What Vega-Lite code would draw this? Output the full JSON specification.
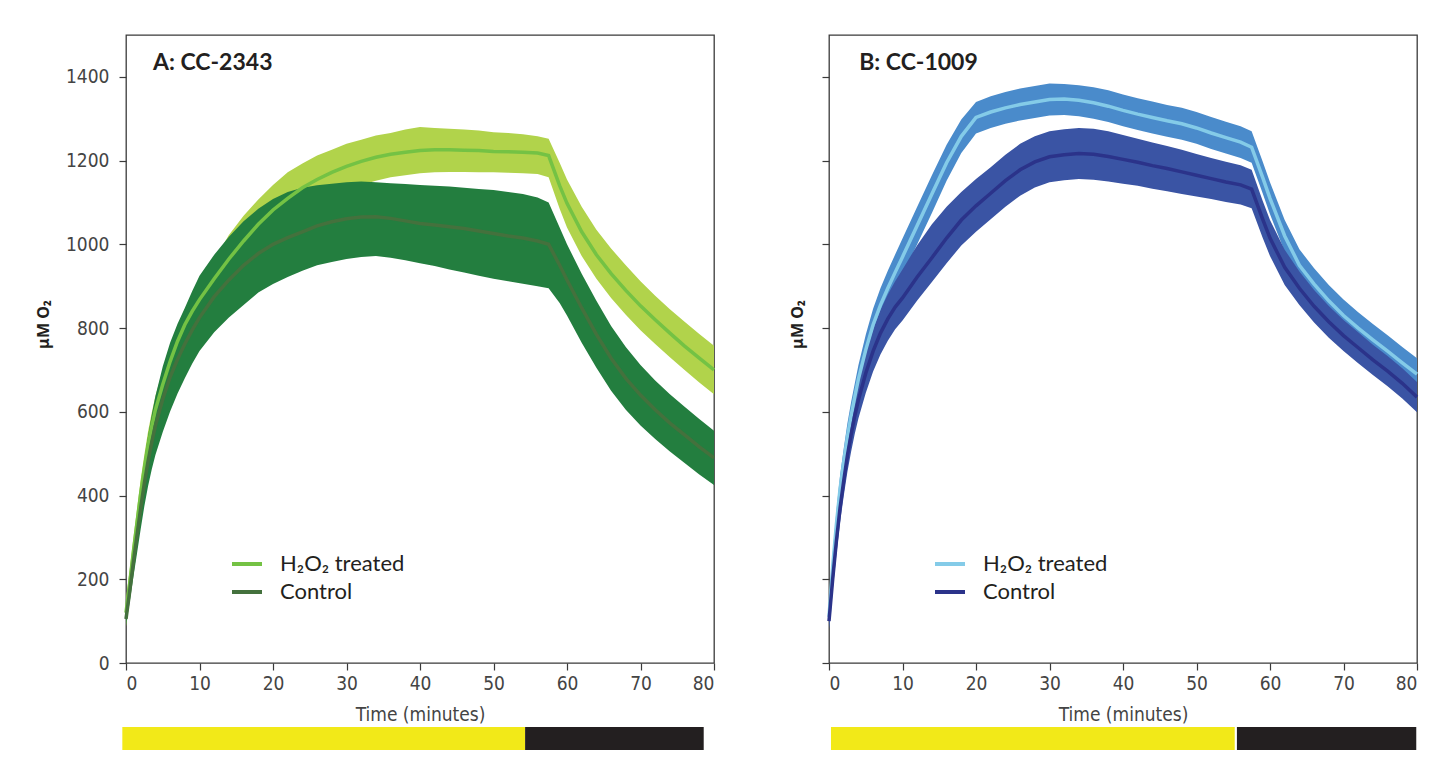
{
"$schema": "https://vega.github.io/schema/vega-lite/v6.json",
"background": "white",
"padding": {"left": 34, "top": 34, "right": 0, "bottom": 0},
"config": {
  "view": {"stroke": "#3a3a3a", "strokeWidth": 1.3},
  "axis": {"domain": false, "grid": false, "tickColor": "#3a3a3a", "tickSize": 7, "tickWidth": 1.2,
           "labelFont": "DejaVu Sans Condensed", "labelFontSize": 19, "labelColor": "#444444",
           "titleFont": "DejaVu Sans Condensed", "titleFontSize": 19, "titleColor": "#444444", "titleFontWeight": "normal"}
},
"datasets": {
  "curves": [
{"p":"A","g":"H₂O₂ treated","t":0,"m":120,"lo":88,"hi":152},
{"p":"A","g":"H₂O₂ treated","t":0.5,"m":190,"lo":158,"hi":222},
{"p":"A","g":"H₂O₂ treated","t":1,"m":265,"lo":232,"hi":298},
{"p":"A","g":"H₂O₂ treated","t":1.5,"m":335,"lo":302,"hi":368},
{"p":"A","g":"H₂O₂ treated","t":2,"m":405,"lo":372,"hi":438},
{"p":"A","g":"H₂O₂ treated","t":2.5,"m":465,"lo":432,"hi":498},
{"p":"A","g":"H₂O₂ treated","t":3,"m":520,"lo":487,"hi":553},
{"p":"A","g":"H₂O₂ treated","t":3.5,"m":565,"lo":532,"hi":598},
{"p":"A","g":"H₂O₂ treated","t":4,"m":605,"lo":572,"hi":638},
{"p":"A","g":"H₂O₂ treated","t":5,"m":665,"lo":630,"hi":700},
{"p":"A","g":"H₂O₂ treated","t":6,"m":720,"lo":685,"hi":755},
{"p":"A","g":"H₂O₂ treated","t":7,"m":768,"lo":732,"hi":804},
{"p":"A","g":"H₂O₂ treated","t":8,"m":808,"lo":772,"hi":845},
{"p":"A","g":"H₂O₂ treated","t":9,"m":840,"lo":803,"hi":878},
{"p":"A","g":"H₂O₂ treated","t":10,"m":868,"lo":830,"hi":905},
{"p":"A","g":"H₂O₂ treated","t":12,"m":918,"lo":875,"hi":962},
{"p":"A","g":"H₂O₂ treated","t":14,"m":965,"lo":910,"hi":1022},
{"p":"A","g":"H₂O₂ treated","t":16,"m":1008,"lo":950,"hi":1068},
{"p":"A","g":"H₂O₂ treated","t":18,"m":1048,"lo":985,"hi":1107},
{"p":"A","g":"H₂O₂ treated","t":20,"m":1082,"lo":1020,"hi":1142},
{"p":"A","g":"H₂O₂ treated","t":22,"m":1110,"lo":1050,"hi":1172},
{"p":"A","g":"H₂O₂ treated","t":24,"m":1135,"lo":1075,"hi":1193},
{"p":"A","g":"H₂O₂ treated","t":26,"m":1155,"lo":1098,"hi":1212},
{"p":"A","g":"H₂O₂ treated","t":28,"m":1172,"lo":1115,"hi":1226},
{"p":"A","g":"H₂O₂ treated","t":30,"m":1186,"lo":1130,"hi":1240},
{"p":"A","g":"H₂O₂ treated","t":32,"m":1198,"lo":1142,"hi":1250},
{"p":"A","g":"H₂O₂ treated","t":34,"m":1208,"lo":1152,"hi":1260},
{"p":"A","g":"H₂O₂ treated","t":36,"m":1215,"lo":1160,"hi":1266},
{"p":"A","g":"H₂O₂ treated","t":38,"m":1220,"lo":1165,"hi":1274},
{"p":"A","g":"H₂O₂ treated","t":40,"m":1224,"lo":1170,"hi":1280},
{"p":"A","g":"H₂O₂ treated","t":42,"m":1226,"lo":1172,"hi":1278},
{"p":"A","g":"H₂O₂ treated","t":44,"m":1226,"lo":1173,"hi":1276},
{"p":"A","g":"H₂O₂ treated","t":46,"m":1225,"lo":1173,"hi":1274},
{"p":"A","g":"H₂O₂ treated","t":48,"m":1224,"lo":1172,"hi":1272},
{"p":"A","g":"H₂O₂ treated","t":50,"m":1222,"lo":1172,"hi":1268},
{"p":"A","g":"H₂O₂ treated","t":52,"m":1221,"lo":1171,"hi":1266},
{"p":"A","g":"H₂O₂ treated","t":54,"m":1220,"lo":1170,"hi":1263},
{"p":"A","g":"H₂O₂ treated","t":56,"m":1218,"lo":1168,"hi":1258},
{"p":"A","g":"H₂O₂ treated","t":57.5,"m":1212,"lo":1160,"hi":1252},
{"p":"A","g":"H₂O₂ treated","t":59,"m":1140,"lo":1085,"hi":1195},
{"p":"A","g":"H₂O₂ treated","t":60,"m":1098,"lo":1040,"hi":1155},
{"p":"A","g":"H₂O₂ treated","t":62,"m":1030,"lo":972,"hi":1090},
{"p":"A","g":"H₂O₂ treated","t":64,"m":975,"lo":918,"hi":1035},
{"p":"A","g":"H₂O₂ treated","t":66,"m":930,"lo":872,"hi":990},
{"p":"A","g":"H₂O₂ treated","t":68,"m":890,"lo":832,"hi":950},
{"p":"A","g":"H₂O₂ treated","t":70,"m":853,"lo":795,"hi":912},
{"p":"A","g":"H₂O₂ treated","t":72,"m":820,"lo":762,"hi":877},
{"p":"A","g":"H₂O₂ treated","t":74,"m":788,"lo":730,"hi":845},
{"p":"A","g":"H₂O₂ treated","t":76,"m":757,"lo":700,"hi":815},
{"p":"A","g":"H₂O₂ treated","t":78,"m":728,"lo":670,"hi":786},
{"p":"A","g":"H₂O₂ treated","t":80,"m":700,"lo":642,"hi":758},
{"p":"A","g":"Control","t":0,"m":105,"lo":90,"hi":120},
{"p":"A","g":"Control","t":0.5,"m":170,"lo":145,"hi":195},
{"p":"A","g":"Control","t":1,"m":240,"lo":205,"hi":275},
{"p":"A","g":"Control","t":1.5,"m":305,"lo":262,"hi":348},
{"p":"A","g":"Control","t":2,"m":370,"lo":320,"hi":420},
{"p":"A","g":"Control","t":2.5,"m":430,"lo":375,"hi":485},
{"p":"A","g":"Control","t":3,"m":482,"lo":422,"hi":542},
{"p":"A","g":"Control","t":3.5,"m":527,"lo":462,"hi":592},
{"p":"A","g":"Control","t":4,"m":567,"lo":497,"hi":637},
{"p":"A","g":"Control","t":5,"m":630,"lo":552,"hi":708},
{"p":"A","g":"Control","t":6,"m":683,"lo":601,"hi":765},
{"p":"A","g":"Control","t":7,"m":725,"lo":643,"hi":810},
{"p":"A","g":"Control","t":8,"m":762,"lo":680,"hi":848},
{"p":"A","g":"Control","t":9,"m":795,"lo":715,"hi":888},
{"p":"A","g":"Control","t":10,"m":825,"lo":745,"hi":925},
{"p":"A","g":"Control","t":12,"m":875,"lo":790,"hi":975},
{"p":"A","g":"Control","t":14,"m":915,"lo":825,"hi":1018},
{"p":"A","g":"Control","t":16,"m":950,"lo":855,"hi":1055},
{"p":"A","g":"Control","t":18,"m":978,"lo":885,"hi":1085},
{"p":"A","g":"Control","t":20,"m":1000,"lo":905,"hi":1108},
{"p":"A","g":"Control","t":22,"m":1016,"lo":922,"hi":1125},
{"p":"A","g":"Control","t":24,"m":1030,"lo":937,"hi":1135},
{"p":"A","g":"Control","t":26,"m":1044,"lo":950,"hi":1141},
{"p":"A","g":"Control","t":28,"m":1054,"lo":958,"hi":1145},
{"p":"A","g":"Control","t":30,"m":1061,"lo":965,"hi":1148},
{"p":"A","g":"Control","t":32,"m":1065,"lo":970,"hi":1150},
{"p":"A","g":"Control","t":34,"m":1066,"lo":972,"hi":1148},
{"p":"A","g":"Control","t":36,"m":1062,"lo":968,"hi":1146},
{"p":"A","g":"Control","t":38,"m":1056,"lo":962,"hi":1144},
{"p":"A","g":"Control","t":40,"m":1050,"lo":955,"hi":1142},
{"p":"A","g":"Control","t":42,"m":1046,"lo":948,"hi":1140},
{"p":"A","g":"Control","t":44,"m":1042,"lo":940,"hi":1138},
{"p":"A","g":"Control","t":46,"m":1038,"lo":933,"hi":1135},
{"p":"A","g":"Control","t":48,"m":1032,"lo":925,"hi":1132},
{"p":"A","g":"Control","t":50,"m":1026,"lo":918,"hi":1130},
{"p":"A","g":"Control","t":52,"m":1020,"lo":912,"hi":1125},
{"p":"A","g":"Control","t":54,"m":1015,"lo":906,"hi":1120},
{"p":"A","g":"Control","t":56,"m":1008,"lo":900,"hi":1112},
{"p":"A","g":"Control","t":57.5,"m":1000,"lo":895,"hi":1100},
{"p":"A","g":"Control","t":59,"m":950,"lo":860,"hi":1040},
{"p":"A","g":"Control","t":60,"m":915,"lo":830,"hi":1000},
{"p":"A","g":"Control","t":62,"m":848,"lo":765,"hi":930},
{"p":"A","g":"Control","t":64,"m":785,"lo":705,"hi":865},
{"p":"A","g":"Control","t":66,"m":728,"lo":650,"hi":805},
{"p":"A","g":"Control","t":68,"m":680,"lo":605,"hi":755},
{"p":"A","g":"Control","t":70,"m":640,"lo":567,"hi":712},
{"p":"A","g":"Control","t":72,"m":605,"lo":535,"hi":675},
{"p":"A","g":"Control","t":74,"m":573,"lo":505,"hi":642},
{"p":"A","g":"Control","t":76,"m":545,"lo":478,"hi":612},
{"p":"A","g":"Control","t":78,"m":516,"lo":450,"hi":583},
{"p":"A","g":"Control","t":80,"m":490,"lo":425,"hi":555},
{"p":"B","g":"H₂O₂ treated","t":0,"m":110,"lo":85,"hi":135},
{"p":"B","g":"H₂O₂ treated","t":0.5,"m":230,"lo":200,"hi":260},
{"p":"B","g":"H₂O₂ treated","t":1,"m":330,"lo":300,"hi":362},
{"p":"B","g":"H₂O₂ treated","t":1.5,"m":415,"lo":383,"hi":447},
{"p":"B","g":"H₂O₂ treated","t":2,"m":480,"lo":448,"hi":512},
{"p":"B","g":"H₂O₂ treated","t":2.5,"m":540,"lo":508,"hi":572},
{"p":"B","g":"H₂O₂ treated","t":3,"m":590,"lo":558,"hi":622},
{"p":"B","g":"H₂O₂ treated","t":3.5,"m":635,"lo":603,"hi":667},
{"p":"B","g":"H₂O₂ treated","t":4,"m":678,"lo":645,"hi":711},
{"p":"B","g":"H₂O₂ treated","t":5,"m":748,"lo":712,"hi":784},
{"p":"B","g":"H₂O₂ treated","t":6,"m":808,"lo":770,"hi":846},
{"p":"B","g":"H₂O₂ treated","t":7,"m":855,"lo":815,"hi":895},
{"p":"B","g":"H₂O₂ treated","t":8,"m":895,"lo":853,"hi":937},
{"p":"B","g":"H₂O₂ treated","t":9,"m":933,"lo":890,"hi":976},
{"p":"B","g":"H₂O₂ treated","t":10,"m":970,"lo":926,"hi":1014},
{"p":"B","g":"H₂O₂ treated","t":12,"m":1045,"lo":1000,"hi":1090},
{"p":"B","g":"H₂O₂ treated","t":14,"m":1120,"lo":1075,"hi":1165},
{"p":"B","g":"H₂O₂ treated","t":16,"m":1195,"lo":1152,"hi":1238},
{"p":"B","g":"H₂O₂ treated","t":18,"m":1258,"lo":1218,"hi":1298},
{"p":"B","g":"H₂O₂ treated","t":20,"m":1303,"lo":1265,"hi":1340},
{"p":"B","g":"H₂O₂ treated","t":22,"m":1316,"lo":1278,"hi":1354},
{"p":"B","g":"H₂O₂ treated","t":24,"m":1326,"lo":1288,"hi":1364},
{"p":"B","g":"H₂O₂ treated","t":26,"m":1334,"lo":1296,"hi":1372},
{"p":"B","g":"H₂O₂ treated","t":28,"m":1340,"lo":1302,"hi":1378},
{"p":"B","g":"H₂O₂ treated","t":30,"m":1346,"lo":1308,"hi":1384},
{"p":"B","g":"H₂O₂ treated","t":32,"m":1347,"lo":1309,"hi":1383},
{"p":"B","g":"H₂O₂ treated","t":34,"m":1344,"lo":1306,"hi":1380},
{"p":"B","g":"H₂O₂ treated","t":36,"m":1338,"lo":1300,"hi":1375},
{"p":"B","g":"H₂O₂ treated","t":38,"m":1330,"lo":1292,"hi":1368},
{"p":"B","g":"H₂O₂ treated","t":40,"m":1320,"lo":1282,"hi":1358},
{"p":"B","g":"H₂O₂ treated","t":42,"m":1311,"lo":1273,"hi":1349},
{"p":"B","g":"H₂O₂ treated","t":44,"m":1303,"lo":1265,"hi":1341},
{"p":"B","g":"H₂O₂ treated","t":46,"m":1295,"lo":1257,"hi":1333},
{"p":"B","g":"H₂O₂ treated","t":48,"m":1288,"lo":1250,"hi":1326},
{"p":"B","g":"H₂O₂ treated","t":50,"m":1278,"lo":1240,"hi":1316},
{"p":"B","g":"H₂O₂ treated","t":52,"m":1266,"lo":1228,"hi":1304},
{"p":"B","g":"H₂O₂ treated","t":54,"m":1255,"lo":1217,"hi":1293},
{"p":"B","g":"H₂O₂ treated","t":56,"m":1244,"lo":1206,"hi":1282},
{"p":"B","g":"H₂O₂ treated","t":57.5,"m":1232,"lo":1195,"hi":1270},
{"p":"B","g":"H₂O₂ treated","t":59,"m":1160,"lo":1122,"hi":1198},
{"p":"B","g":"H₂O₂ treated","t":60,"m":1110,"lo":1072,"hi":1148},
{"p":"B","g":"H₂O₂ treated","t":62,"m":1020,"lo":982,"hi":1058},
{"p":"B","g":"H₂O₂ treated","t":64,"m":950,"lo":912,"hi":988},
{"p":"B","g":"H₂O₂ treated","t":66,"m":905,"lo":867,"hi":943},
{"p":"B","g":"H₂O₂ treated","t":68,"m":865,"lo":827,"hi":903},
{"p":"B","g":"H₂O₂ treated","t":70,"m":830,"lo":792,"hi":868},
{"p":"B","g":"H₂O₂ treated","t":72,"m":800,"lo":762,"hi":838},
{"p":"B","g":"H₂O₂ treated","t":74,"m":772,"lo":734,"hi":810},
{"p":"B","g":"H₂O₂ treated","t":76,"m":745,"lo":707,"hi":783},
{"p":"B","g":"H₂O₂ treated","t":78,"m":717,"lo":679,"hi":755},
{"p":"B","g":"H₂O₂ treated","t":80,"m":690,"lo":652,"hi":728},
{"p":"B","g":"Control","t":0,"m":100,"lo":80,"hi":120},
{"p":"B","g":"Control","t":0.5,"m":200,"lo":172,"hi":228},
{"p":"B","g":"Control","t":1,"m":290,"lo":258,"hi":322},
{"p":"B","g":"Control","t":1.5,"m":370,"lo":335,"hi":405},
{"p":"B","g":"Control","t":2,"m":435,"lo":398,"hi":472},
{"p":"B","g":"Control","t":2.5,"m":495,"lo":456,"hi":534},
{"p":"B","g":"Control","t":3,"m":545,"lo":504,"hi":586},
{"p":"B","g":"Control","t":3.5,"m":590,"lo":547,"hi":633},
{"p":"B","g":"Control","t":4,"m":628,"lo":584,"hi":672},
{"p":"B","g":"Control","t":5,"m":692,"lo":645,"hi":739},
{"p":"B","g":"Control","t":6,"m":745,"lo":696,"hi":796},
{"p":"B","g":"Control","t":7,"m":788,"lo":737,"hi":843},
{"p":"B","g":"Control","t":8,"m":822,"lo":770,"hi":880},
{"p":"B","g":"Control","t":9,"m":850,"lo":797,"hi":912},
{"p":"B","g":"Control","t":10,"m":872,"lo":818,"hi":940},
{"p":"B","g":"Control","t":12,"m":922,"lo":866,"hi":998},
{"p":"B","g":"Control","t":14,"m":968,"lo":910,"hi":1048},
{"p":"B","g":"Control","t":16,"m":1015,"lo":955,"hi":1090},
{"p":"B","g":"Control","t":18,"m":1058,"lo":997,"hi":1125},
{"p":"B","g":"Control","t":20,"m":1092,"lo":1030,"hi":1156},
{"p":"B","g":"Control","t":22,"m":1122,"lo":1060,"hi":1184},
{"p":"B","g":"Control","t":24,"m":1152,"lo":1090,"hi":1214},
{"p":"B","g":"Control","t":26,"m":1178,"lo":1116,"hi":1240},
{"p":"B","g":"Control","t":28,"m":1197,"lo":1136,"hi":1258},
{"p":"B","g":"Control","t":30,"m":1209,"lo":1148,"hi":1270},
{"p":"B","g":"Control","t":32,"m":1214,"lo":1153,"hi":1275},
{"p":"B","g":"Control","t":34,"m":1217,"lo":1156,"hi":1278},
{"p":"B","g":"Control","t":36,"m":1215,"lo":1154,"hi":1276},
{"p":"B","g":"Control","t":38,"m":1210,"lo":1150,"hi":1270},
{"p":"B","g":"Control","t":40,"m":1203,"lo":1145,"hi":1261},
{"p":"B","g":"Control","t":42,"m":1196,"lo":1140,"hi":1252},
{"p":"B","g":"Control","t":44,"m":1188,"lo":1133,"hi":1243},
{"p":"B","g":"Control","t":46,"m":1181,"lo":1127,"hi":1235},
{"p":"B","g":"Control","t":48,"m":1173,"lo":1120,"hi":1226},
{"p":"B","g":"Control","t":50,"m":1165,"lo":1114,"hi":1216},
{"p":"B","g":"Control","t":52,"m":1157,"lo":1108,"hi":1206},
{"p":"B","g":"Control","t":54,"m":1149,"lo":1101,"hi":1197},
{"p":"B","g":"Control","t":56,"m":1142,"lo":1095,"hi":1189},
{"p":"B","g":"Control","t":57.5,"m":1132,"lo":1086,"hi":1178},
{"p":"B","g":"Control","t":59,"m":1060,"lo":1016,"hi":1104},
{"p":"B","g":"Control","t":60,"m":1015,"lo":972,"hi":1058},
{"p":"B","g":"Control","t":62,"m":945,"lo":903,"hi":987},
{"p":"B","g":"Control","t":64,"m":895,"lo":855,"hi":935},
{"p":"B","g":"Control","t":66,"m":852,"lo":813,"hi":891},
{"p":"B","g":"Control","t":68,"m":815,"lo":777,"hi":853},
{"p":"B","g":"Control","t":70,"m":782,"lo":745,"hi":819},
{"p":"B","g":"Control","t":72,"m":753,"lo":716,"hi":790},
{"p":"B","g":"Control","t":74,"m":724,"lo":688,"hi":760},
{"p":"B","g":"Control","t":76,"m":697,"lo":661,"hi":733},
{"p":"B","g":"Control","t":78,"m":668,"lo":632,"hi":704},
{"p":"B","g":"Control","t":80,"m":635,"lo":599,"hi":671}
  ],
  "strip": [
    {"p":"A","phase":"light","start":-0.5,"end":54.3},
    {"p":"A","phase":"dark","start":54.3,"end":78.6},
    {"p":"B","phase":"light","start":0.27,"end":55.2},
    {"p":"B","phase":"dark","start":55.5,"end":79.9}
  ],
  "labels": [
    {"p":"A","label":"A: CC-2343"},
    {"p":"B","label":"B: CC-1009"}
  ]
},
"hconcat": [
  {
    "vconcat": [
      {
        "width": 588, "height": 628,
        "layer": [
          {"data": {"name": "curves"}, "transform": [{"filter": "datum.p == 'A' && datum.g != 'Control'"}], "mark": {"type": "area", "color": "#b1d34b", "opacity": 1},
           "encoding": {
             "x": {"field": "t", "type": "quantitative", "scale": {"domain": [0, 80], "nice": false},
               "axis": {"values": [0,10,20,30,40,50,60,70,80], "title": "Time (minutes)", "labelPadding": 4, "titlePadding": 12}},
             "y": {"field": "lo", "type": "quantitative", "title": "μM O₂", "scale": {"domain": [0, 1500], "nice": false},
             "axis": {"values": [0,200,400,600,800,1000,1200,1400], "format": "d", "labelPadding": 10, "titleFont": "Noto Sans", "titleFontWeight": "bold", "titleFontSize": 16, "titleColor": "#231f20", "titleX": -83, "titleY": 289, "titleAngle": -90, "titleAlign": "center", "titleBaseline": "middle"}},
             "y2": {"field": "hi"}}},
          {"data": {"name": "curves"}, "transform": [{"filter": "datum.p == 'A' && datum.g == 'Control'"}], "mark": {"type": "area", "color": "#237e3f", "opacity": 1},
           "encoding": {"x": {"field": "t", "type": "quantitative", "title": "Time (minutes)"}, "y": {"field": "lo", "type": "quantitative", "title": "μM O₂"}, "y2": {"field": "hi"}}},
          {"data": {"name": "curves"}, "transform": [{"filter": "datum.p == 'A' && datum.g != 'Control'"}], "mark": {"type": "line", "strokeWidth": 3.5},
           "encoding": {"x": {"field": "t", "type": "quantitative", "title": "Time (minutes)"}, "y": {"field": "m", "type": "quantitative", "title": "μM O₂"},
             "color": {"field": "g", "type": "nominal", "scale": {"domain": ["H₂O₂ treated", "Control"], "range": ["#74c244", "#44713d"]},
               "legend": {"orient": "none", "legendX": 104, "legendY": 512, "title": null, "symbolType": "stroke", "symbolStrokeWidth": 4, "symbolSize": 900, "labelFont": "Lato", "labelFontSize": 22, "labelColor": "#231f20", "labelOffset": 16, "rowPadding": -2, "padding": 0}}}},
          {"data": {"name": "curves"}, "transform": [{"filter": "datum.p == 'A' && datum.g == 'Control'"}], "mark": {"type": "line", "strokeWidth": 3.5},
           "encoding": {"x": {"field": "t", "type": "quantitative", "title": "Time (minutes)"}, "y": {"field": "m", "type": "quantitative", "title": "μM O₂"},
             "color": {"field": "g", "type": "nominal"}}},
          {"data": {"name": "labels"}, "transform": [{"filter": "datum.p == 'A'"}], "mark": {"type": "text", "align": "left", "baseline": "alphabetic", "font": "Lato", "fontSize": 23, "fontWeight": "bold", "color": "#231f20"},
           "encoding": {"x": {"datum": 3.67, "type": "quantitative"}, "y": {"datum": 1417, "type": "quantitative"}, "text": {"field": "label"}}}
        ]
      },
      {
        "width": 588, "height": 23,
        "view": {"stroke": null},
        "data": {"name": "strip"},
        "transform": [{"filter": "datum.p == 'A'"}],
        "encoding": {"x": {"field": "start", "type": "quantitative", "scale": {"domain": [0, 80], "nice": false}, "axis": null}, "x2": {"field": "end"}},
        "layer": [
          {"transform": [{"filter": "datum.phase == 'light'"}], "mark": {"type": "rect", "color": "#f2e918"}},
          {"transform": [{"filter": "datum.phase == 'dark'"}], "mark": {"type": "rect", "color": "#231f20"}}
        ]
      }
    ],
    "spacing": 2,
    "resolve": {"scale": {"x": "independent", "y": "independent", "color": "independent"}}
  },
  {
    "vconcat": [
      {
        "width": 588, "height": 628,
        "layer": [
          {"data": {"name": "curves"}, "transform": [{"filter": "datum.p == 'B' && datum.g != 'Control'"}], "mark": {"type": "area", "color": "#4a8bcb", "opacity": 1},
           "encoding": {
             "x": {"field": "t", "type": "quantitative", "scale": {"domain": [0, 80], "nice": false},
               "axis": {"values": [0,10,20,30,40,50,60,70,80], "title": "Time (minutes)", "labelPadding": 4, "titlePadding": 12}},
             "y": {"field": "lo", "type": "quantitative", "title": "μM O₂", "scale": {"domain": [0, 1500], "nice": false},
             "axis": {"values": [0,200,400,600,800,1000,1200,1400], "labels": false, "titleFont": "Noto Sans", "titleFontWeight": "bold", "titleFontSize": 16, "titleColor": "#231f20", "titleX": -32, "titleY": 289, "titleAngle": -90, "titleAlign": "center", "titleBaseline": "middle"}},
             "y2": {"field": "hi"}}},
          {"data": {"name": "curves"}, "transform": [{"filter": "datum.p == 'B' && datum.g == 'Control'"}], "mark": {"type": "area", "color": "#3a54a4", "opacity": 1},
           "encoding": {"x": {"field": "t", "type": "quantitative", "title": "Time (minutes)"}, "y": {"field": "lo", "type": "quantitative", "title": "μM O₂"}, "y2": {"field": "hi"}}},
          {"data": {"name": "curves"}, "transform": [{"filter": "datum.p == 'B' && datum.g != 'Control'"}], "mark": {"type": "line", "strokeWidth": 3.5},
           "encoding": {"x": {"field": "t", "type": "quantitative", "title": "Time (minutes)"}, "y": {"field": "m", "type": "quantitative", "title": "μM O₂"},
             "color": {"field": "g", "type": "nominal", "scale": {"domain": ["H₂O₂ treated", "Control"], "range": ["#84cbe8", "#2b338a"]},
               "legend": {"orient": "none", "legendX": 104, "legendY": 512, "title": null, "symbolType": "stroke", "symbolStrokeWidth": 4, "symbolSize": 900, "labelFont": "Lato", "labelFontSize": 22, "labelColor": "#231f20", "labelOffset": 16, "rowPadding": -2, "padding": 0}}}},
          {"data": {"name": "curves"}, "transform": [{"filter": "datum.p == 'B' && datum.g == 'Control'"}], "mark": {"type": "line", "strokeWidth": 3.5},
           "encoding": {"x": {"field": "t", "type": "quantitative", "title": "Time (minutes)"}, "y": {"field": "m", "type": "quantitative", "title": "μM O₂"},
             "color": {"field": "g", "type": "nominal"}}},
          {"data": {"name": "labels"}, "transform": [{"filter": "datum.p == 'B'"}], "mark": {"type": "text", "align": "left", "baseline": "alphabetic", "font": "Lato", "fontSize": 23, "fontWeight": "bold", "color": "#231f20"},
           "encoding": {"x": {"datum": 4.1, "type": "quantitative"}, "y": {"datum": 1417, "type": "quantitative"}, "text": {"field": "label"}}}
        ]
      },
      {
        "width": 588, "height": 23,
        "view": {"stroke": null},
        "data": {"name": "strip"},
        "transform": [{"filter": "datum.p == 'B'"}],
        "encoding": {"x": {"field": "start", "type": "quantitative", "scale": {"domain": [0, 80], "nice": false}, "axis": null}, "x2": {"field": "end"}},
        "layer": [
          {"transform": [{"filter": "datum.phase == 'light'"}], "mark": {"type": "rect", "color": "#f2e918"}},
          {"transform": [{"filter": "datum.phase == 'dark'"}], "mark": {"type": "rect", "color": "#231f20"}}
        ]
      }
    ],
    "spacing": 2,
    "resolve": {"scale": {"x": "independent", "y": "independent", "color": "independent"}}
  }
],
"spacing": 66,
"resolve": {"scale": {"color": "independent", "x": "independent", "y": "independent"}, "legend": {"color": "independent"}}
}
